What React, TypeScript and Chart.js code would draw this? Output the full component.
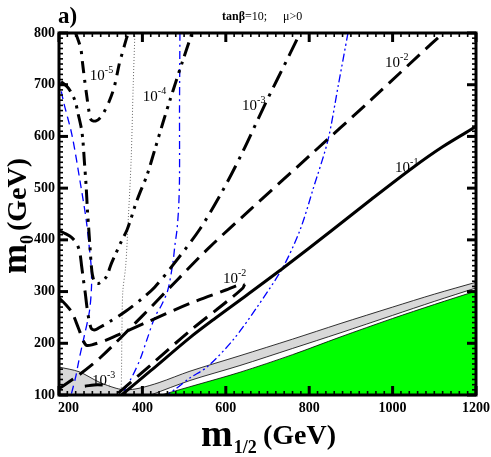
import React, { useEffect, useRef } from 'react';
import { Chart, registerables } from 'chart.js';
Chart.register(...registerables);

type P = [number, number];

// tick labels
const xTicks = [200, 400, 600, 800, 1000, 1200];
const yTicks = [100, 200, 300, 400, 500, 600, 700, 800];

// contour 10^-1 (solid)
const br1: P[] = [[350,100],[420,147],[514,211],[574,248],[650,293],[740,347],[857,420],[950,479],[1049,540],[1120,580],[1200,619]];
// contour 10^-2 (dashed)
const br2Main: P[] = [[200,112],[250,140],[300,173],[400,253],[483,322],[560,385],[658,458],[800,562],[950,672],[1094,780],[1122,800]];
const br2Upper: P[] = [[200,288],[217,274],[231,260],[241,241],[250,222],[258,205],[266,196],[279,197],[313,206],[400,237],[514,277],[600,303],[632,313],[645,314]];
const br2Lower: P[] = [[645,314],[641,307],[603,281],[514,224],[420,158],[337,100]];
// contour 10^-3 (dash-dot)
const br3Main: P[] = [[200,418],[215,412],[230,405],[243,392],[250,375],[254,351],[258,326],[263,297],[267,270],[272,245],[278,228],[287,226],[296,230],[320,241],[360,262],[400,287],[430,309],[473,351],[538,421],[591,493],[638,566],[694,662],[754,760],[778,800]];
const br3Low: P[] = [[262,117],[292,120],[322,118]];
// contour 10^-4 (dash-dot-dot)
const br4: P[] = [[205,706],[222,694],[238,670],[246,643],[253,618],[257,595],[261,550],[265,505],[268,460],[271,425],[274,390],[277,355],[280,333],[286,318],[296,316],[313,328],[325,353],[337,375],[349,396],[363,419],[373,442],[382,465],[392,487],[411,525],[430,575],[449,626],[466,670],[480,705],[495,742],[519,800]];
// contour 10^-5
const br5: P[] = [[240,800],[252,771],[256,745],[261,712],[267,676],[272,648],[277,632],[289,630],[300,637],[308,647],[320,667],[332,694],[339,719],[345,742],[352,762],[362,790],[366,800]];
// blue lines
const blueDash: P[] = [[200,712],[210,670],[231,603],[252,506],[265,440],[272,390],[277,350],[278,310],[273,262],[260,212],[248,168],[240,135],[229,100]];
const blueDashDot: P[] = [[490,800],[489,650],[489,520],[487,464],[483,420],[478,390],[473,355],[461,303],[446,274],[430,251],[410,205],[394,168],[375,135],[353,104],[350,100]];
const blueDashDotDot: P[] = [[893,800],[870,700],[845,593],[810,500],[778,419],[737,347],[675,270],[617,206],[555,154],[514,133],[480,112],[459,100]];
// grey dotted
const greyDotted: P[] = [[382,800],[378,700],[373,555],[366,438],[360,350],[353,300],[351,230],[350,150],[349,100]];
// excluded regions
const greyTop: P[] = [[200,154],[248,145],[296,125],[337,113],[361,110],[392,113],[440,124],[514,146],[634,176],[760,208],[874,238],[1000,270],[1100,295],[1200,318]];
const greyBottom: P[] = [[420,100],[514,128],[634,157],[760,190],[874,220],[1000,254],[1100,281],[1200,307]];
const greenTop: P[] = [[445,100],[514,116],[634,144],[760,178],[874,212],[1000,248],[1100,275],[1200,301]];

// contour labels
const labelExp = ['-5', '-4', '-3', '-2', '-1', '-2', '-3'];
const labelX = [274, 401, 639, 982, 1006, 593, 279];
const labelY = [709, 669, 651, 734, 531, 317, 119];

const SERIF = '"Liberation Serif", "DejaVu Serif", serif';
const pts = (a: P[]) => a.map(([x, y]) => ({ x, y }));

const line = (data: P[], color: string, width: number, dash: number[], order = 0, tension = 0.3) => ({
  data: pts(data),
  borderColor: color,
  borderWidth: width,
  borderDash: dash,
  borderCapStyle: 'butt',
  pointRadius: 0,
  fill: false,
  tension,
  order,
});

const region = (data: P[], color: string, order: number) => ({
  data: pts(data),
  borderColor: '#000',
  borderWidth: 0.8,
  backgroundColor: color,
  fill: 'start',
  pointRadius: 0,
  tension: 0.3,
  order,
});

const decor = {
  id: 'decor',
  afterDraw(chart: any) {
    const { ctx, chartArea: a, scales } = chart;
    const xs = scales.x, ys = scales.y;
    ctx.save();
    ctx.strokeStyle = '#000';
    ctx.lineCap = 'butt';
    const seg = (x1: number, y1: number, x2: number, y2: number) => {
      ctx.beginPath(); ctx.moveTo(x1, y1); ctx.lineTo(x2, y2); ctx.stroke();
    };
    for (let v = 200; v <= 1200; v += 20) {
      const px = xs.getPixelForValue(v);
      const major = v % 200 === 0;
      ctx.lineWidth = major ? 3 : 1.6;
      const len = major ? 9 : 4;
      seg(px, a.bottom, px, a.bottom - len);
      seg(px, a.top, px, a.top + len);
    }
    for (let v = 100; v <= 800; v += 10) {
      const py = ys.getPixelForValue(v);
      const major = v % 100 === 0;
      ctx.lineWidth = major ? 3 : 1.6;
      const len = major ? 9 : 4;
      seg(a.left, py, a.left + len, py);
      seg(a.right, py, a.right - len, py);
    }
    ctx.lineWidth = 3;
    ctx.strokeRect(a.left, a.top, a.right - a.left, a.bottom - a.top);

    // tick labels
    ctx.fillStyle = '#000';
    ctx.font = `bold 14px ${SERIF}`;
    ctx.textBaseline = 'middle';
    ctx.textAlign = 'right';
    yTicks.forEach((v) => ctx.fillText(String(v), a.left - 4, ys.getPixelForValue(v)));
    ctx.textBaseline = 'top';
    xTicks.forEach((v, i) => {
      const px = xs.getPixelForValue(v);
      if (i === 0) { ctx.textAlign = 'left'; ctx.fillText(String(v), px - 1, a.bottom + 6); }
      else { ctx.textAlign = 'center'; ctx.fillText(String(v), px, a.bottom + 6); }
    });

    // contour labels
    ctx.textBaseline = 'alphabetic';
    ctx.textAlign = 'left';
    labelExp.forEach((e, i) => {
      const px = xs.getPixelForValue(labelX[i]);
      const py = ys.getPixelForValue(labelY[i]);
      ctx.font = `15px ${SERIF}`;
      ctx.fillText('10', px, py);
      const w = ctx.measureText('10').width;
      ctx.font = `10px ${SERIF}`;
      ctx.fillText(e, px + w, py - 7);
    });

    // panel label and header
    ctx.font = `bold 23px ${SERIF}`;
    ctx.fillText('a)', 58, 23);
    ctx.font = `bold 12px ${SERIF}`;
    ctx.fillText('tanβ', 222, 20);
    let w = ctx.measureText('tanβ').width;
    ctx.font = `12px ${SERIF}`;
    ctx.fillText('=10;', 222 + w, 20);
    ctx.fillText('μ>0', 283, 20);

    // x title
    ctx.font = `bold 38px ${SERIF}`;
    ctx.fillText('m', 201, 446);
    w = ctx.measureText('m').width;
    ctx.font = `bold 18px ${SERIF}`;
    ctx.fillText('1/2', 201 + w + 1, 453);
    ctx.font = `bold 28px ${SERIF}`;
    ctx.fillText('(GeV)', 263, 444);

    // y title (rotated)
    ctx.translate(26, 274);
    ctx.rotate(-Math.PI / 2);
    ctx.font = `bold 36px ${SERIF}`;
    ctx.fillText('m', 0, 0);
    w = ctx.measureText('m').width;
    ctx.font = `bold 18px ${SERIF}`;
    ctx.fillText('0', w, 7);
    const w2 = ctx.measureText('0').width;
    ctx.font = `bold 28px ${SERIF}`;
    ctx.fillText('(GeV)', w + w2 + 4, 0);
    ctx.restore();
  },
};

export default function App() {
  const ref = useRef<HTMLCanvasElement>(null);
  useEffect(() => {
    const black = '#000';
    const blue = '#0000ff';
    const chart = new Chart(ref.current!, {
      type: 'line',
      data: {
        datasets: [
          line(br1, black, 3, [], 0),
          line(br2Main, black, 3, [17, 8], 0),
          line(br2Upper, black, 3, [17, 8], 0),
          line(br2Lower, black, 3, [17, 8], 0),
          line(br3Main, black, 3, [18, 7, 3, 7], 0),
          line(br3Low, black, 3, [18, 7, 3, 7], 0),
          line(br4, black, 3, [14, 6, 3, 6, 3, 6], 0),
          line(br5, black, 3, [12, 7, 3, 7], 0),
          line(blueDash, blue, 1.3, [8, 5], 1),
          line(blueDashDot, blue, 1.3, [8, 4, 2, 4], 1),
          line(blueDashDotDot, blue, 1.3, [8, 3, 2, 3, 2, 3], 1),
          line(greyDotted, '#666', 1, [1, 2], 2),
          region(greenTop, '#00ff00', 8),
          region(greyBottom, '#ffffff', 9),
          region(greyTop, '#d8d8d8', 10),
        ] as any,
      },
      options: {
        responsive: false,
        maintainAspectRatio: false,
        animation: false,
        devicePixelRatio: 1,
        layout: { padding: { left: 0, top: 33, right: 15, bottom: 0 } },
        plugins: { legend: { display: false }, tooltip: { enabled: false } },
        scales: {
          x: {
            type: 'linear', min: 200, max: 1200,
            grid: { display: false }, border: { display: false },
            ticks: { display: false, stepSize: 200 },
            afterFit: (s: any) => { s.height = 62; },
          },
          y: {
            type: 'linear', min: 100, max: 800,
            grid: { display: false }, border: { display: false },
            ticks: { display: false, stepSize: 100 },
            afterFit: (s: any) => { s.width = 59; },
          },
        },
      } as any,
      plugins: [decor],
    });
    return () => chart.destroy();
  }, []);
  return (
    <div style={{ position: 'absolute', left: 0, top: 0, width: 491, height: 457, background: '#fff' }}>
      <canvas ref={ref} width={491} height={457} style={{ display: 'block' }} />
    </div>
  );
}
